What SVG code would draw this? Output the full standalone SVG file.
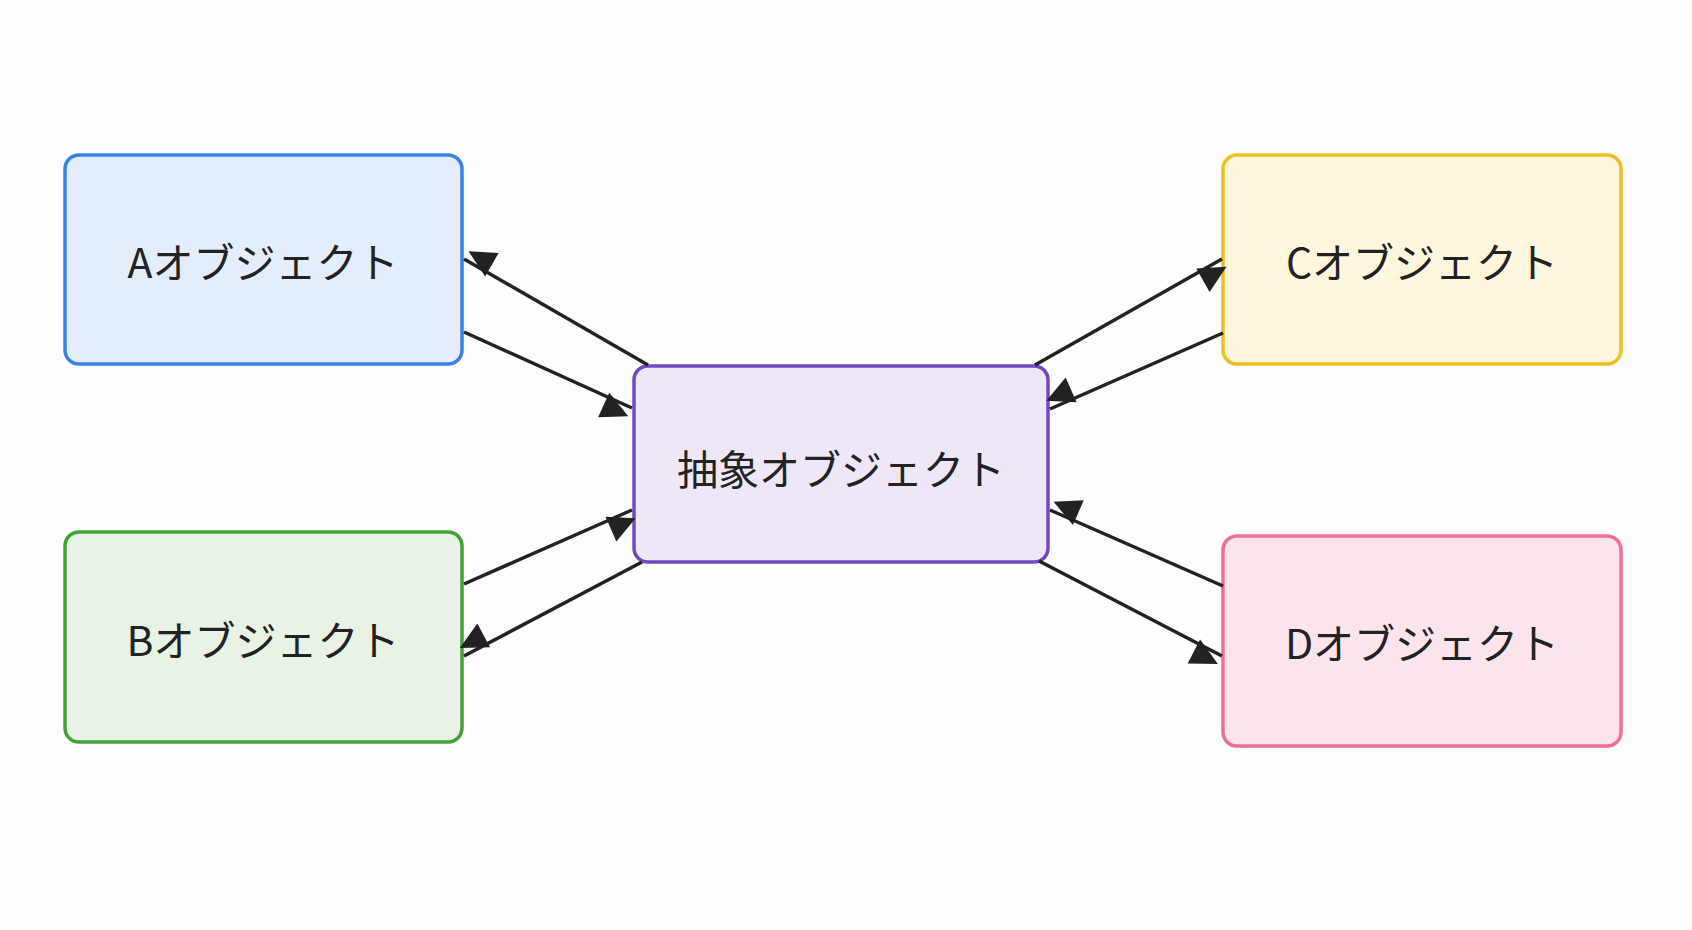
<svg xmlns="http://www.w3.org/2000/svg" width="1692" height="930" viewBox="0 0 1692 930">
<style>
.n{stroke-width:3.5}
.t{font-family:"Noto Sans CJK JP","Noto Sans",sans-serif;font-size:41px;fill:#222;text-anchor:middle;dominant-baseline:central}
.e{stroke:#222;stroke-width:3.5;fill:none;marker-end:url(#ah)}
</style>
<defs><marker id="ah" viewBox="0 0 10 10" refX="9" refY="5" markerWidth="9" markerHeight="9" markerUnits="userSpaceOnUse" orient="auto" style="overflow:visible"><path d="M0,0L10,5L0,10z" fill="#222" transform="scale(3)translate(-7,-5)translate(0,5)scale(1)"/></marker></defs>
<rect width="1692" height="930" fill="#fdfdfd"/>
<g id="A"><rect class="n" x="65" y="155" width="397" height="209" rx="14" fill="#e3edfb" stroke="#3b82e6"/><text class="t" x="263" y="260">Aオブジェクト</text></g>
<g id="B"><rect class="n" x="65" y="532" width="397" height="210" rx="14" fill="#e8f3e5" stroke="#43a13a"/><text class="t" x="263" y="638">Bオブジェクト</text></g>
<g id="M"><rect class="n" x="634" y="366" width="414" height="196" rx="14" fill="#ede7f8" stroke="#7447c4"/><text class="t" x="841" y="467">抽象オブジェクト</text></g>
<g id="C"><rect class="n" x="1223" y="155" width="398" height="209" rx="14" fill="#fef7dd" stroke="#f0c020"/><text class="t" x="1422" y="260">Cオブジェクト</text></g>
<g id="D"><rect class="n" x="1223" y="536" width="398" height="210" rx="14" fill="#fce4ec" stroke="#ec7096"/><text class="t" x="1422" y="641">Dオブジェクト</text></g>
<g id="edges">
<line class="e" x1="648" y1="365" x2="464" y2="259"/>
<line class="e" x1="464" y1="332" x2="632" y2="408"/>
<line class="e" x1="464" y1="584" x2="632" y2="510"/>
<line class="e" x1="642" y1="562" x2="464" y2="656"/>
<line class="e" x1="1035" y1="365" x2="1222" y2="259"/>
<line class="e" x1="1223" y1="333" x2="1050" y2="409"/>
<line class="e" x1="1223" y1="586" x2="1050" y2="510"/>
<line class="e" x1="1039" y1="561" x2="1222" y2="656"/>
</g>
</svg>
